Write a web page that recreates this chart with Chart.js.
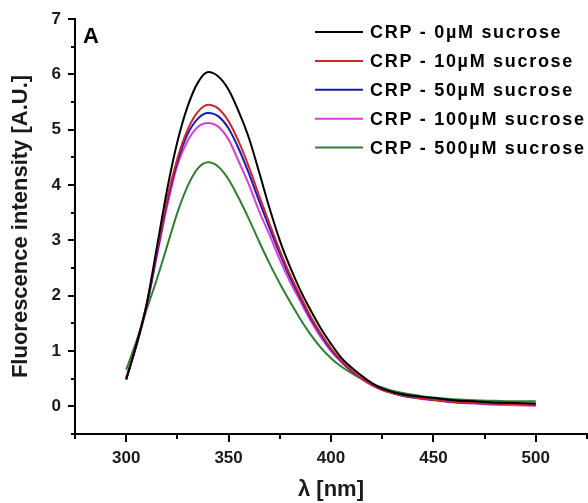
<!DOCTYPE html>
<html>
<head>
<meta charset="utf-8">
<script src="https://cdn.jsdelivr.net/npm/chart.js@4/dist/chart.umd.min.js"></script>
<style>
  html, body { margin: 0; padding: 0; background: #fff; overflow: hidden; }
  #wrap { width: 588px; height: 503px; }
</style>
</head>
<body>
<div id="wrap"><canvas id="spectra" width="588" height="503"></canvas></div>
<script>
/* ========================================
   Fluorescence spectra of CRP with sucrose
   ======================================== */

const wavelengths = [300, 305, 310, 315, 320, 325, 330, 335, 340, 345, 350, 355, 360, 365, 370, 375,
                     380, 385, 390, 395, 400, 405, 410, 415, 420, 425, 430, 435, 440, 445, 450,
                     460, 470, 480, 490, 500];

const crp0   = [0.48, 1.12, 1.85, 2.88, 3.92, 4.78, 5.42, 5.85, 6.04, 5.96, 5.72, 5.32, 4.84, 4.22, 3.58, 3.00,
                2.52, 2.10, 1.74, 1.41, 1.13, 0.88, 0.70, 0.55, 0.42, 0.32, 0.26, 0.22, 0.19, 0.17, 0.15,
                0.11, 0.09, 0.07, 0.06, 0.05];
const crp10  = [0.50, 1.12, 1.85, 2.80, 3.75, 4.48, 5.00, 5.32, 5.45, 5.38, 5.15, 4.78, 4.32, 3.80, 3.30, 2.82,
                2.38, 2.00, 1.63, 1.32, 1.05, 0.83, 0.65, 0.50, 0.39, 0.30, 0.24, 0.20, 0.17, 0.14, 0.12,
                0.08, 0.06, 0.05, 0.04, 0.04];
const crp50  = [0.50, 1.10, 1.82, 2.76, 3.70, 4.42, 4.92, 5.20, 5.30, 5.24, 5.02, 4.65, 4.20, 3.70, 3.22, 2.76,
                2.33, 1.96, 1.60, 1.30, 1.03, 0.82, 0.64, 0.50, 0.39, 0.30, 0.24, 0.19, 0.16, 0.14, 0.12,
                0.08, 0.06, 0.05, 0.04, 0.03];
const crp100 = [0.52, 1.10, 1.80, 2.72, 3.62, 4.36, 4.80, 5.05, 5.12, 5.05, 4.82, 4.42, 4.00, 3.52, 3.10, 2.65,
                2.25, 1.90, 1.55, 1.25, 1.00, 0.80, 0.63, 0.49, 0.38, 0.30, 0.24, 0.19, 0.16, 0.13, 0.11,
                0.07, 0.05, 0.03, 0.02, 0.01];
const crp500 = [0.66, 1.18, 1.75, 2.30, 2.90, 3.50, 3.98, 4.30, 4.41, 4.33, 4.10, 3.76, 3.38, 2.97, 2.58, 2.22,
                1.89, 1.58, 1.30, 1.06, 0.87, 0.72, 0.60, 0.50, 0.41, 0.34, 0.28, 0.24, 0.21, 0.18, 0.16,
                0.13, 0.11, 0.10, 0.09, 0.09];

const seriesLabels = ['CRP - 0\u00B5M sucrose', 'CRP - 10\u00B5M sucrose', 'CRP - 50\u00B5M sucrose',
                      'CRP - 100\u00B5M sucrose', 'CRP - 500\u00B5M sucrose'];
const seriesColors = ['#000000', '#d02828', '#1a1ab4', '#d640d6', '#2f7f33'];
const seriesValues = [crp0, crp10, crp50, crp100, crp500];

const xTicks = [300, 350, 400, 450, 500];
const yTicks = [0, 1, 2, 3, 4, 5, 6, 7];

const FONT = 'Arial, "Liberation Sans", sans-serif';

// minor + major tick marks, panel letter and in-plot legend
const decorations = {
    id: 'decorations',
    afterDraw(chart) {
        const { ctx, chartArea, scales: { x, y } } = chart;
        ctx.save();
        ctx.strokeStyle = '#000';
        ctx.lineWidth = 2;

        for (let v = y.min; v <= y.max + 1e-9; v += 0.5) {
            const py = Math.round(y.getPixelForValue(v));
            const len = yTicks.includes(v) ? 7 : 4;
            ctx.beginPath();
            ctx.moveTo(chartArea.left, py);
            ctx.lineTo(chartArea.left - len, py);
            ctx.stroke();
        }
        for (let v = x.min; v <= x.max + 1e-9; v += 25) {
            const px = Math.round(x.getPixelForValue(v));
            const len = xTicks.includes(v) ? 8 : 5;
            ctx.beginPath();
            ctx.moveTo(px, chartArea.bottom);
            ctx.lineTo(px, chartArea.bottom + len);
            ctx.stroke();
        }

        // panel letter
        ctx.fillStyle = '#000';
        ctx.font = 'bold 22px ' + FONT;
        ctx.textBaseline = 'alphabetic';
        ctx.fillText('A', 83, 43);

        // legend
        ctx.font = 'bold 18px ' + FONT;
        ctx.letterSpacing = '1.7px';
        ctx.textBaseline = 'middle';
        chart.data.datasets.forEach((ds, i) => {
            const ly = 32 + i * 28.9;
            ctx.strokeStyle = ds.borderColor;
            ctx.lineWidth = 2;
            ctx.beginPath();
            ctx.moveTo(315, ly);
            ctx.lineTo(363, ly);
            ctx.stroke();
            ctx.fillText(ds.label, 370, ly + 1);
        });
        ctx.restore();
    }
};

const datasets = seriesLabels.map((label, i) => ({
    label,
    data: wavelengths.map((w, j) => ({ x: w, y: seriesValues[i][j] })),
    borderColor: seriesColors[i],
    borderWidth: 2,
    pointRadius: 0,
    fill: false,
    cubicInterpolationMode: 'monotone'
}));

new Chart(document.getElementById('spectra').getContext('2d'), {
    type: 'line',
    data: { datasets },
    options: {
        responsive: false,
        animation: false,
        devicePixelRatio: 1,
        layout: { padding: { top: 19, right: 1, left: 0, bottom: 0 } },
        plugins: { legend: { display: false }, tooltip: { enabled: false } },
        scales: {
            x: {
                type: 'linear',
                min: 275,
                max: 525,
                afterFit: s => { s.height = 69; },
                grid: { display: false, drawTicks: true, tickLength: 13 },
                border: { color: '#000', width: 2 },
                ticks: {
                    stepSize: 25,
                    autoSkip: false,
                    maxRotation: 0,
                    padding: 1,
                    color: '#1a1a1a',
                    font: { family: FONT, size: 17, weight: 'bold' },
                    callback: v => xTicks.includes(v) ? String(v) : ''
                },
                title: {
                    display: true,
                    text: '\u03BB [nm]',
                    color: '#1a1a1a',
                    font: { family: FONT, size: 22, weight: 'bold' },
                    padding: { top: 0, bottom: 0 }
                }
            },
            y: {
                min: -0.5,
                max: 7,
                afterFit: s => { s.width = 75; },
                grid: { display: false, drawTicks: true, tickLength: 13 },
                border: { color: '#000', width: 2 },
                ticks: {
                    stepSize: 0.5,
                    autoSkip: false,
                    padding: 1,
                    color: '#1a1a1a',
                    font: { family: FONT, size: 17, weight: 'bold' },
                    callback: v => yTicks.includes(v) ? String(v) : ''
                },
                title: {
                    display: true,
                    text: 'Fluorescence intensity [A.U.]',
                    color: '#1a1a1a',
                    font: { family: FONT, size: 22, weight: 'bold' },
                    padding: { top: 8, bottom: 0 }
                }
            }
        }
    },
    plugins: [decorations]
});
</script>
</body>
</html>
